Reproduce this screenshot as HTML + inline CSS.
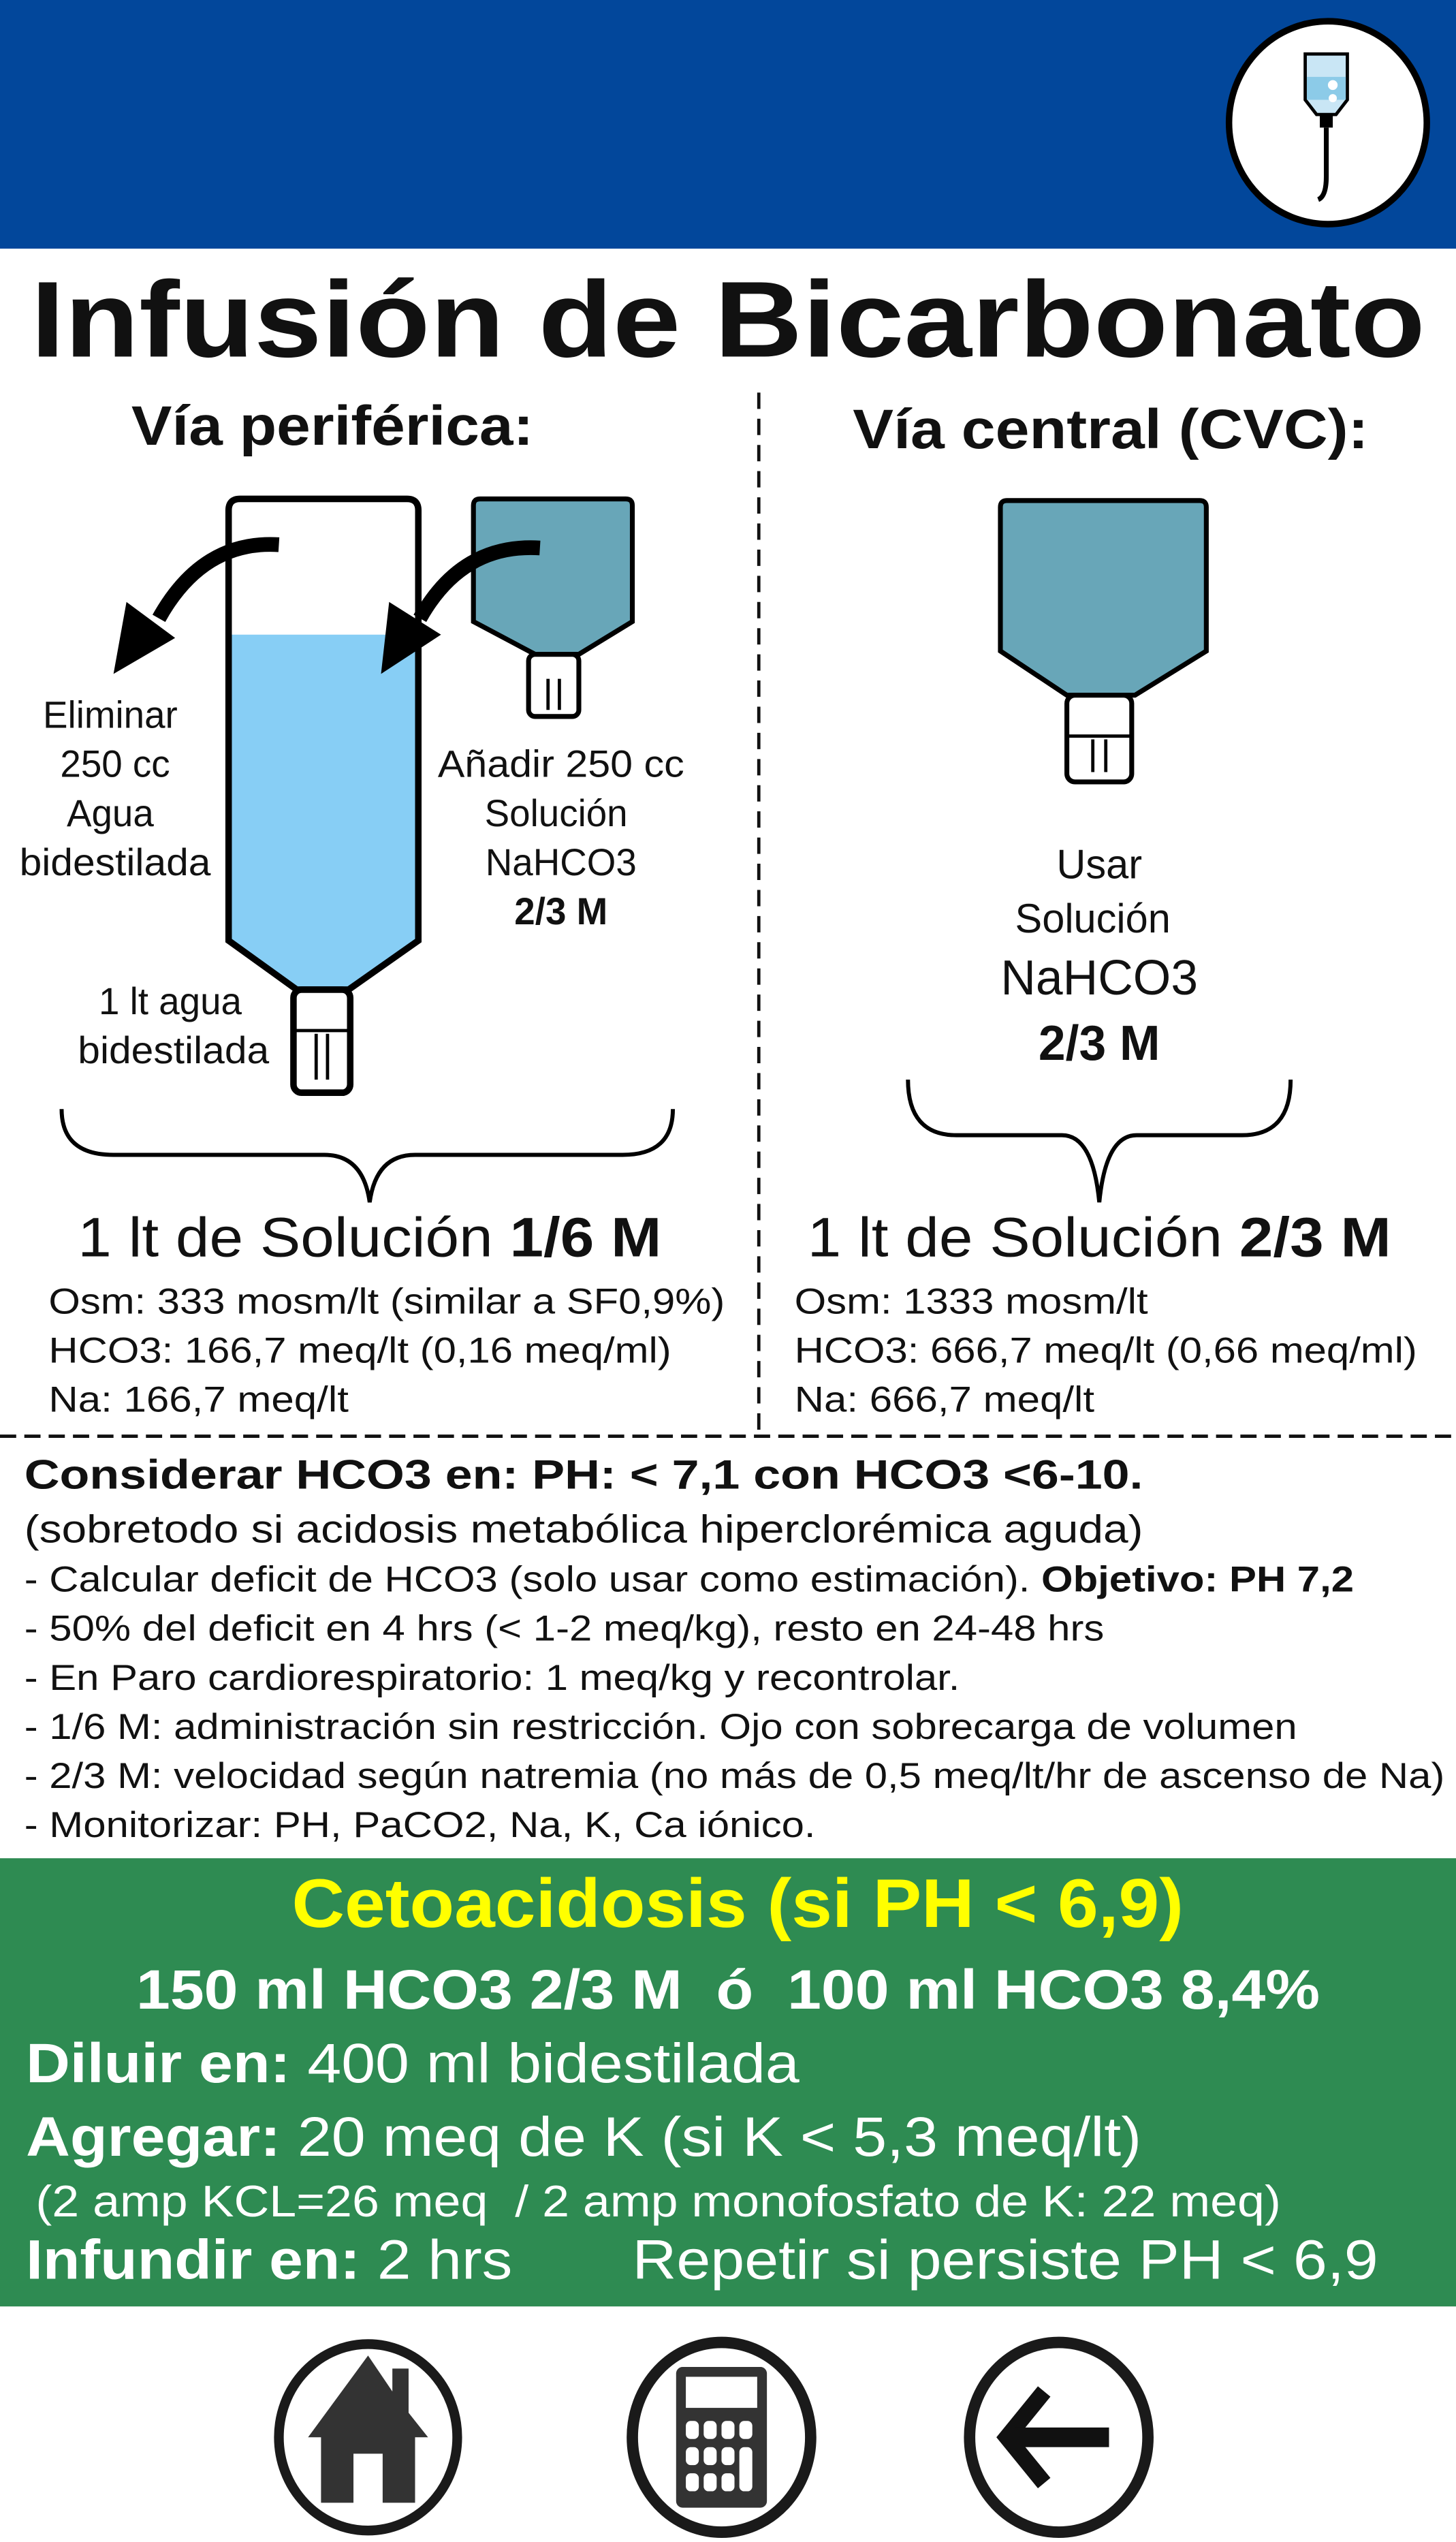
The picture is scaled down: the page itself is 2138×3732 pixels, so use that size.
<!DOCTYPE html>
<html><head><meta charset="utf-8"><style>
html,body{margin:0;padding:0;background:#fff;}
svg{display:block;width:2138px;height:3732px;font-family:"Liberation Sans",Arial,sans-serif;}
text{font-family:"Liberation Sans",Arial,sans-serif;fill:#111;}
</style></head><body>
<svg viewBox="0 0 898 1554" preserveAspectRatio="none" xmlns="http://www.w3.org/2000/svg" font-family="Liberation Sans, Arial, sans-serif">
<rect x="0" y="0" width="898" height="152" fill="#02479b"/>
<g>
<ellipse cx="819" cy="75" rx="61" ry="62" fill="#fff" stroke="#000" stroke-width="4"/>
<path d="M805 33 h26 v28 l-7 9 h-12 l-7 -9z" fill="#c9e6f5" stroke="#000" stroke-width="2"/>
<rect x="806" y="47" width="24" height="14" fill="#8ccbe8"/>
<rect x="814" y="70" width="8" height="8" fill="#000"/>
<path d="M818 78 v30 q0 12 -5 14" stroke="#000" stroke-width="3" fill="none"/>
<circle cx="822" cy="52" r="3" fill="#fff"/><circle cx="822" cy="60" r="2.5" fill="#fff"/>
</g>
<text x="449" y="218" font-size="66" font-weight="bold" text-anchor="middle" textLength="860" lengthAdjust="spacingAndGlyphs">Infusión de Bicarbonato</text>
<line x1="468" y1="240" x2="468" y2="876" stroke="#111" stroke-width="2" stroke-dasharray="10,6"/>
<text x="205" y="272" font-size="34" font-weight="bold" text-anchor="middle" textLength="248" lengthAdjust="spacingAndGlyphs">Vía periférica:</text>
<text x="685" y="274" font-size="34" font-weight="bold" text-anchor="middle" textLength="318" lengthAdjust="spacingAndGlyphs">Vía central (CVC):</text>

<g>
<path d="M141 388 H258 V575 L215 605 H183 L141 575 Z" fill="#87cef5"/>
<path d="M148 305 H251 Q258 305 258 312 V575 L215 605 H183 L141 575 V312 Q141 305 148 305 Z" fill="none" stroke="#000" stroke-width="4"/>
<rect x="181" y="605" width="35" height="63" rx="5" fill="#fff" stroke="#000" stroke-width="4"/>
<line x1="181" y1="630" x2="216" y2="630" stroke="#000" stroke-width="2"/>
<line x1="195" y1="632" x2="195" y2="660" stroke="#000" stroke-width="2"/><line x1="202" y1="632" x2="202" y2="660" stroke="#000" stroke-width="2"/>
</g>
<g>
<path d="M296 305 H386 Q390 305 390 309 V380 L357 400 H330 L292 380 V309 Q292 305 296 305 Z" fill="#68a6b8" stroke="#000" stroke-width="3"/>
<rect x="326" y="400" width="31" height="38" rx="4" fill="#fff" stroke="#000" stroke-width="3"/>
<line x1="338" y1="415" x2="338" y2="434" stroke="#000" stroke-width="2"/><line x1="345" y1="415" x2="345" y2="434" stroke="#000" stroke-width="2"/>
</g>
<g>
<path d="M621 306 H740 Q744 306 744 310 V398 L700 425 H658 L617 398 V310 Q617 306 621 306 Z" fill="#68a6b8" stroke="#000" stroke-width="3"/>
<rect x="658" y="425" width="40" height="53" rx="5" fill="#fff" stroke="#000" stroke-width="3"/>
<line x1="658" y1="450" x2="698" y2="450" stroke="#000" stroke-width="2"/>
<line x1="674" y1="452" x2="674" y2="472" stroke="#000" stroke-width="2"/><line x1="682" y1="452" x2="682" y2="472" stroke="#000" stroke-width="2"/>
</g>
<g>
<path d="M172 333 Q125 330 98 378" stroke="#000" stroke-width="9" fill="none"/>
<path d="M78 368 L70 412 L108 390 Z" fill="#000"/>
</g>
<g>
<path d="M333 335 Q285 332 259 378" stroke="#000" stroke-width="9" fill="none"/>
<path d="M240 368 L235 412 L272 388 Z" fill="#000"/>
</g>
<g font-size="23" text-anchor="middle">
<text x="68" y="445">Eliminar</text><text x="71" y="475">250 cc</text><text x="68" y="505">Agua</text><text x="71" y="535" textLength="118" lengthAdjust="spacingAndGlyphs">bidestilada</text>
</g>
<g font-size="23" text-anchor="middle">
<text x="346" y="475" textLength="152" lengthAdjust="spacingAndGlyphs">Añadir 250 cc</text><text x="343" y="505">Solución</text><text x="346" y="535">NaHCO3</text><text x="346" y="565" font-weight="bold">2/3 M</text>
</g>
<g font-size="23" text-anchor="middle">
<text x="105" y="620">1 lt agua</text><text x="107" y="650" textLength="118" lengthAdjust="spacingAndGlyphs">bidestilada</text>
</g>
<g text-anchor="middle">
<text x="678" y="537" font-size="25">Usar</text><text x="674" y="570" font-size="25">Solución</text>
<text x="678" y="608" font-size="30">NaHCO3</text><text x="678" y="648" font-size="30" font-weight="bold">2/3 M</text>
</g>
<path d="M38 678 Q38 706 70 706 H200 Q224 706 228 735 Q232 706 256 706 H384 Q415 706 415 678" fill="none" stroke="#000" stroke-width="2.5"/>
<path d="M560 660 Q560 694 590 694 H655 Q674 694 678 735 Q682 694 701 694 H766 Q796 694 796 660" fill="none" stroke="#000" stroke-width="2.5"/>
<text x="48" y="768" font-size="34" textLength="360" lengthAdjust="spacingAndGlyphs">1 lt de Solución <tspan font-weight="bold">1/6 M</tspan></text>
<text x="498" y="768" font-size="34" textLength="360" lengthAdjust="spacingAndGlyphs">1 lt de Solución <tspan font-weight="bold">2/3 M</tspan></text>
<g font-size="22">
<text x="30" y="803" textLength="417" lengthAdjust="spacingAndGlyphs">Osm: 333 mosm/lt (similar a SF0,9%)</text>
<text x="30" y="833" textLength="384" lengthAdjust="spacingAndGlyphs">HCO3: 166,7 meq/lt (0,16 meq/ml)</text>
<text x="30" y="863" textLength="185" lengthAdjust="spacingAndGlyphs">Na: 166,7 meq/lt</text>
</g>
<g font-size="22">
<text x="490" y="803" textLength="218" lengthAdjust="spacingAndGlyphs">Osm: 1333 mosm/lt</text>
<text x="490" y="833" textLength="384" lengthAdjust="spacingAndGlyphs">HCO3: 666,7 meq/lt (0,66 meq/ml)</text>
<text x="490" y="863" textLength="185" lengthAdjust="spacingAndGlyphs">Na: 666,7 meq/lt</text>
</g>
<line x1="0" y1="878" x2="898" y2="878" stroke="#111" stroke-width="2" stroke-dasharray="10,5"/>
<g>
<text x="15" y="910" font-size="25" font-weight="bold" textLength="690" lengthAdjust="spacingAndGlyphs">Considerar HCO3 en: PH: &lt; 7,1 con HCO3 &lt;6-10.</text>
<text x="15" y="943" font-size="24" textLength="690" lengthAdjust="spacingAndGlyphs">(sobretodo si acidosis metabólica hiperclorémica aguda)</text>
<text x="15" y="973" font-size="22" textLength="820" lengthAdjust="spacingAndGlyphs">- Calcular deficit de HCO3 (solo usar como estimación). <tspan font-weight="bold">Objetivo: PH 7,2</tspan></text>
<text x="15" y="1003" font-size="22" textLength="666" lengthAdjust="spacingAndGlyphs">- 50% del deficit en 4 hrs (&lt; 1-2 meq/kg), resto en 24-48 hrs</text>
<text x="15" y="1033" font-size="22" textLength="577" lengthAdjust="spacingAndGlyphs">- En Paro cardiorespiratorio: 1 meq/kg y recontrolar.</text>
<text x="15" y="1063" font-size="22" textLength="785" lengthAdjust="spacingAndGlyphs">- 1/6 M: administración sin restricción. Ojo con sobrecarga de volumen</text>
<text x="15" y="1093" font-size="22" textLength="876" lengthAdjust="spacingAndGlyphs">- 2/3 M: velocidad según natremia (no más de 0,5 meq/lt/hr de ascenso de Na)</text>
<text x="15" y="1123" font-size="22" textLength="488" lengthAdjust="spacingAndGlyphs">- Monitorizar: PH, PaCO2, Na, K, Ca iónico.</text>
</g>
<g>
<rect x="0" y="1136" width="898" height="274" fill="#2e8b52"/>
<text x="455" y="1178" font-size="42" font-weight="bold" text-anchor="middle" style="fill:#ffff00" textLength="550" lengthAdjust="spacingAndGlyphs">Cetoacidosis (si PH &lt; 6,9)</text>
<text x="449" y="1228" font-size="34" font-weight="bold" text-anchor="middle" style="fill:#fff" textLength="730" lengthAdjust="spacingAndGlyphs">150 ml HCO3 2/3 M&#160;&#160;ó&#160;&#160;100 ml HCO3 8,4%</text>
<text x="16" y="1273" font-size="34" style="fill:#fff" textLength="477" lengthAdjust="spacingAndGlyphs"><tspan font-weight="bold" style="fill:#fff">Diluir en:</tspan> 400 ml bidestilada</text>
<text x="16" y="1318" font-size="34" style="fill:#fff" textLength="688" lengthAdjust="spacingAndGlyphs"><tspan font-weight="bold" style="fill:#fff">Agregar:</tspan> 20 meq de K (si K &lt; 5,3 meq/lt)</text>
<text x="22" y="1355" font-size="27" style="fill:#fff" textLength="768" lengthAdjust="spacingAndGlyphs">(2 amp KCL=26 meq&#160;&#160;/ 2 amp monofosfato de K: 22 meq)</text>
<text x="16" y="1393" font-size="34" style="fill:#fff" textLength="300" lengthAdjust="spacingAndGlyphs"><tspan font-weight="bold" style="fill:#fff">Infundir en:</tspan> 2 hrs</text>
<text x="390" y="1393" font-size="34" style="fill:#fff" textLength="460" lengthAdjust="spacingAndGlyphs">Repetir si persiste PH &lt; 6,9</text>
</g>
<g>
<ellipse cx="227" cy="1490" rx="55" ry="57" fill="#fff" stroke="#1a1a1a" stroke-width="6"/>
<path d="M227 1440 L190 1490 H198 V1530 H218 V1500 H236 V1530 H256 V1490 H264 L252 1475 V1448 H242 V1462 Z" fill="#333"/>
</g>
<g>
<ellipse cx="445" cy="1490" rx="55" ry="58" fill="#fff" stroke="#1a1a1a" stroke-width="7"/>
<rect x="417" y="1447" width="56" height="86" rx="4" fill="#333"/>
<rect x="423" y="1453" width="44" height="19" fill="#fff"/>
<g fill="#fff">
<rect x="423" y="1480" width="8" height="11" rx="3"/><rect x="434" y="1480" width="8" height="11" rx="3"/><rect x="445" y="1480" width="8" height="11" rx="3"/><rect x="456" y="1480" width="8" height="11" rx="3"/>
<rect x="423" y="1496" width="8" height="11" rx="3"/><rect x="434" y="1496" width="8" height="11" rx="3"/><rect x="445" y="1496" width="8" height="11" rx="3"/><rect x="456" y="1496" width="8" height="27" rx="3"/>
<rect x="423" y="1512" width="8" height="11" rx="3"/><rect x="434" y="1512" width="8" height="11" rx="3"/><rect x="445" y="1512" width="8" height="11" rx="3"/>
</g>
</g>
<g>
<ellipse cx="653" cy="1490" rx="55" ry="58" fill="#fff" stroke="#1a1a1a" stroke-width="7"/>
<path d="M644 1462 L621 1490 L644 1518" stroke="#111" stroke-width="10" fill="none"/>
<rect x="626" y="1484" width="58" height="12" fill="#111"/>
</g>
</svg>
</body></html>
